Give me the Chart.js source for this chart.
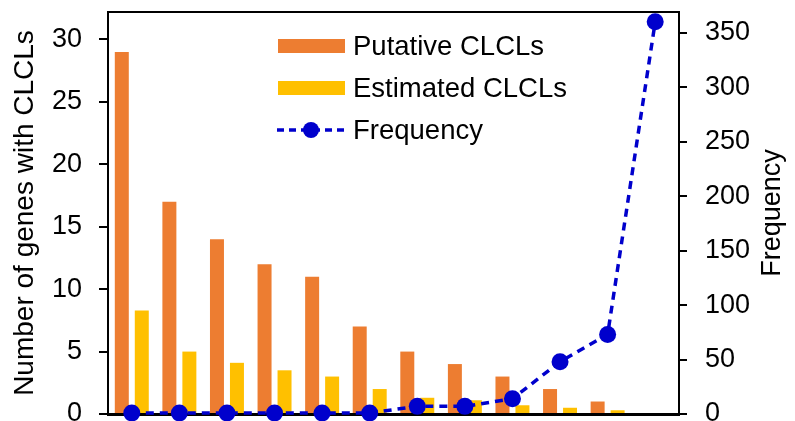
<!DOCTYPE html>
<html>
<head>
<meta charset="utf-8">
<script src="https://cdn.jsdelivr.net/npm/chart.js@4.4.0/dist/chart.umd.min.js"></script>
<style>
  html, body { margin: 0; padding: 0; background: #fff; }
  #wrap { width: 795px; height: 421px; position: relative; }
</style>
</head>
<body>
<div id="wrap"><canvas id="chart"></canvas></div>
<script>
// ─── DATA ─────────────────────────────────────────────────────────────────────
const categories = ['1', '2', '3', '4', '5', '6', '7', '8', '9', '10', '11', '12'];
const putative   = [29, 17, 14, 12, 11, 7, 5, 4, 3, 2, 1, null];
const estimated  = [8.3, 5.0, 4.1, 3.5, 3.0, 2.0, 1.3, 1.1, 0.7, 0.5, 0.3, null];
const frequency  = [1, 1, 1, 1, 1, 1, 7, 7, 14, 48, 73, 360];

const leftTicks  = [0, 5, 10, 15, 20, 25, 30];
const rightTicks = [0, 50, 100, 150, 200, 250, 300, 350];

// ─── STYLE ────────────────────────────────────────────────────────────────────
const ORANGE = '#ED7D31';
const YELLOW = '#FFC000';
const BLUE   = '#0000CC';
const FONT   = '"Liberation Sans", Arial, sans-serif';

// legend, right-hand title and top frame line, drawn on top of the datasets
const framePlugin = {
    id: 'frame',
    afterDatasetsDraw(chart) {
        const { ctx, chartArea: a } = chart;
        ctx.save();
        ctx.strokeStyle = '#000';
        ctx.lineWidth = 2;
        ctx.beginPath();
        ctx.moveTo(a.left, a.top);
        ctx.lineTo(a.right, a.top);
        ctx.stroke();

        // right axis title reads bottom-to-top like the left one
        ctx.save();
        ctx.translate(773, (a.top + a.bottom) / 2);
        ctx.rotate(-Math.PI / 2);
        ctx.font = `27px ${FONT}`;
        ctx.fillStyle = '#000';
        ctx.textAlign = 'center';
        ctx.textBaseline = 'middle';
        ctx.fillText('Frequency', 0, 0);
        ctx.restore();

        // legend
        const bx = 278, bw = 67, tx = 353;
        const rows = [46, 88, 130];
        ctx.font = `27.5px ${FONT}`;
        ctx.textBaseline = 'middle';
        ctx.fillStyle = ORANGE;
        ctx.fillRect(bx, rows[0] - 7, bw, 14);
        ctx.fillStyle = YELLOW;
        ctx.fillRect(bx, rows[1] - 7, bw, 14);

        ctx.strokeStyle = BLUE;
        ctx.lineWidth = 3.5;
        ctx.setLineDash([7, 5]);
        ctx.beginPath();
        ctx.moveTo(bx - 1, rows[2]);
        ctx.lineTo(bx + bw, rows[2]);
        ctx.stroke();
        ctx.setLineDash([]);
        ctx.fillStyle = BLUE;
        ctx.beginPath();
        ctx.arc(bx + 33, rows[2], 8, 0, Math.PI * 2);
        ctx.fill();

        ctx.fillStyle = '#000';
        ctx.fillText('Putative CLCLs', tx, rows[0] + 1);
        ctx.fillText('Estimated CLCLs', tx, rows[1] + 1);
        ctx.fillText('Frequency', tx, rows[2] + 1);
        ctx.restore();
    },
};

const tickFont = { family: FONT, size: 27 };

// fixed box sizes, no extra padding for overhanging labels
function fixWidth(w) {
    return (s) => { s.width = w; s.paddingTop = 0; s.paddingBottom = 0; };
}

new Chart(document.getElementById('chart'), {
    type: 'bar',
    data: {
        labels: categories,
        datasets: [
            {
                type: 'line',
                label: 'Frequency',
                data: frequency,
                yAxisID: 'y2',
                borderColor: BLUE,
                backgroundColor: BLUE,
                borderWidth: 3.5,
                borderDash: [8, 6],
                pointRadius: 8.5,
                pointHoverRadius: 8.5,
                pointBackgroundColor: BLUE,
                pointBorderWidth: 0,
                tension: 0,
                clip: false,
                order: 0,
            },
            {
                label: 'Putative CLCLs',
                data: putative,
                backgroundColor: ORANGE,
                yAxisID: 'y',
                categoryPercentage: 0.84,
                barPercentage: 0.7,
                order: 1,
            },
            {
                label: 'Estimated CLCLs',
                data: estimated,
                backgroundColor: YELLOW,
                yAxisID: 'y',
                categoryPercentage: 0.84,
                barPercentage: 0.7,
                order: 1,
            },
        ],
    },
    options: {
        responsive: true,
        maintainAspectRatio: false,
        animation: false,
        layout: { autoPadding: false, padding: { top: 12, left: 0, right: 0, bottom: 0 } },
        plugins: { legend: { display: false }, tooltip: { enabled: false } },
        scales: {
            x: {
                offset: true,
                grid: { display: false },
                border: { display: true, color: '#000', width: 3 },
                ticks: { display: false },
                afterFit: (s) => { s.height = 7; s.paddingLeft = 0; s.paddingRight = 0; },
            },
            y: {
                position: 'left',
                min: 0,
                max: 32.2,
                afterBuildTicks: (s) => { s.ticks = leftTicks.map(v => ({ value: v })); },
                grid: { drawOnChartArea: false, drawTicks: true, tickLength: 9, color: '#000', lineWidth: 2 },
                border: { display: true, color: '#000', width: 2 },
                ticks: { color: '#000', font: tickFont, padding: 17 },
                title: {
                    display: true,
                    text: 'Number of genes with CLCLs',
                    color: '#000',
                    font: { family: FONT, size: 28 },
                    padding: { top: 8, bottom: 0 },
                },
                afterFit: fixWidth(108),
            },
            y2: {
                position: 'right',
                min: 0,
                max: 369,
                afterBuildTicks: (s) => { s.ticks = rightTicks.map(v => ({ value: v })); },
                grid: { drawOnChartArea: false, drawTicks: true, tickLength: 8, color: '#000', lineWidth: 2 },
                border: { display: true, color: '#000', width: 2 },
                ticks: { color: '#000', font: tickFont, padding: 18 },
                afterFit: fixWidth(116),
            },
        },
    },
    plugins: [framePlugin],
});
</script>
</body>
</html>
